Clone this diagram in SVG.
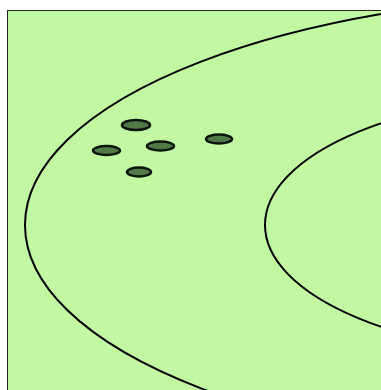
<svg xmlns="http://www.w3.org/2000/svg" width="381" height="390" viewBox="0 0 381 390">
<style>
.bg{fill:#c2f8a2;stroke:#222;stroke-width:1}
.contour{fill:none;stroke:#000;stroke-width:2}
.spot{fill:#527a48;stroke:#0a140a;stroke-width:2.5}
</style>
<rect x="0" y="0" width="381" height="390" fill="#ffffff"/>
<rect class="bg" x="7.5" y="10.5" width="380" height="390"/>
<g id="contours">
<ellipse class="contour" cx="626" cy="225" rx="601" ry="231"/>
<ellipse class="contour" cx="585" cy="225" rx="320" ry="132"/>
</g>
<g id="spot1"><ellipse class="spot" cx="136" cy="125" rx="14" ry="5"/></g>
<g id="spot2"><ellipse class="spot" cx="106.5" cy="150.5" rx="13.5" ry="4.5"/></g>
<g id="spot3"><ellipse class="spot" cx="160.5" cy="146" rx="13.5" ry="4.5"/></g>
<g id="spot4"><ellipse class="spot" cx="219" cy="139" rx="13" ry="4.5"/></g>
<g id="spot5"><ellipse class="spot" cx="139" cy="172" rx="12" ry="4.5"/></g>
</svg>
